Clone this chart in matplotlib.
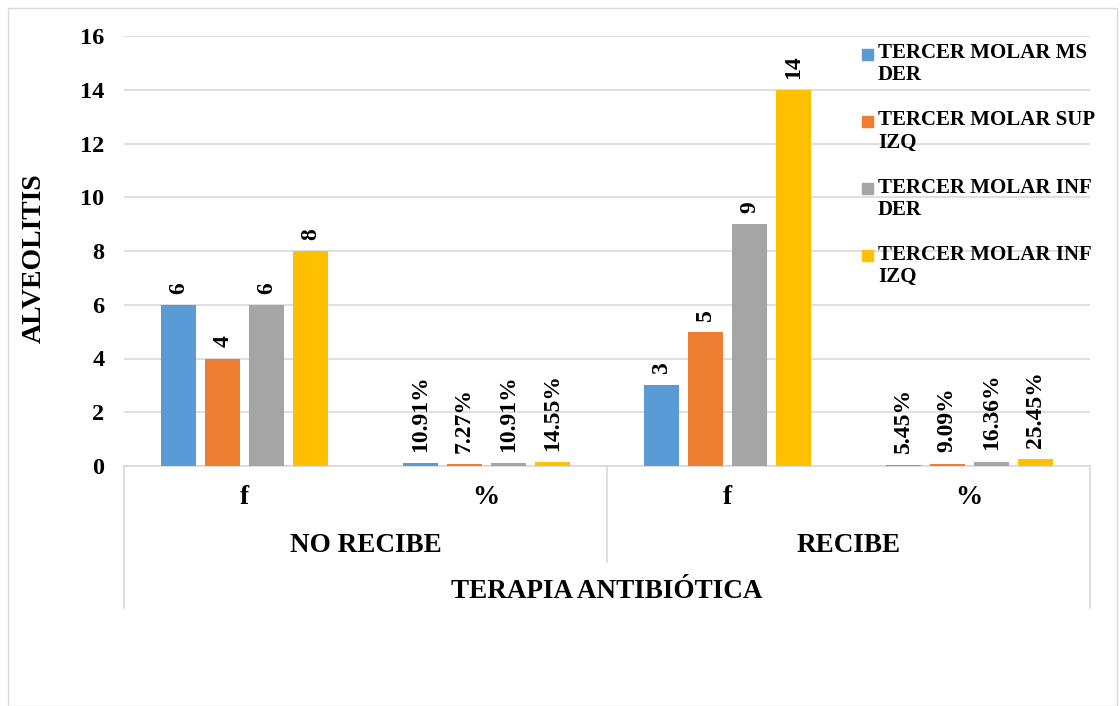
import matplotlib.pyplot as plt
from matplotlib.patches import Rectangle
from matplotlib.lines import Line2D

plt.rcParams['font.family'] = ['Liberation Serif', 'DejaVu Serif']
plt.rcParams['font.weight'] = 'bold'

# data
groups = ['NO RECIBE', 'RECIBE']
sub_labels = ['f', '%', 'f', '%']
series_names = ['TERCER MOLAR MS\nDER', 'TERCER MOLAR SUP\nIZQ',
                'TERCER MOLAR INF\nDER', 'TERCER MOLAR INF\nIZQ']
colors = ['#5B9BD5', '#ED7D31', '#A5A5A5', '#FFC000']
# per series: [f no recibe, % no recibe, f recibe, % recibe]
ms_der = [6, 0.1091, 3, 0.0545]
sup_izq = [4, 0.0727, 5, 0.0909]
inf_der = [6, 0.1091, 9, 0.1636]
inf_izq = [8, 0.1455, 14, 0.2545]
series = [ms_der, sup_izq, inf_der, inf_izq]
axis_title = 'TERAPIA ANTIBIÓTICA'
y_title = 'ALVEOLITIS'

W, H = 1120, 706
fig = plt.figure(figsize=(W / 100, H / 100), dpi=100)
fig.add_artist(Rectangle((8 / W, 0), 1109 / W, 698 / H, transform=fig.transFigure,
                         fill=False, edgecolor='#D9D9D9', linewidth=1))

ax = fig.add_axes([124 / W, (H - 466) / H, 966 / W, 430 / H])
x = range(len(sub_labels))
step = 0.182
width = 0.145
for i, (vals, c) in enumerate(zip(series, colors)):
    xs = [k + (i - 1.5) * step for k in x]
    bars = ax.bar(xs, vals, width=width, color=c, zorder=3)
    for k, (b, v) in enumerate(zip(bars, vals)):
        lab = f'{v:g}' if sub_labels[k] == 'f' else f'{v * 100:.2f}%'
        ax.annotate(lab, (b.get_x() + b.get_width() / 2, v), xytext=(0, 8),
                    textcoords='offset points', rotation=90, ha='center',
                    va='bottom', fontsize=17, fontweight='bold')

ax.set_xlim(-0.5, 3.5)
ax.set_ylim(0, 16)
ax.set_yticks(range(0, 17, 2))
ax.tick_params(axis='y', length=0, pad=14, labelsize=17.5)
ax.set_xticks([])
ax.yaxis.grid(True, color='#D9D9D9', linewidth=1.2, zorder=0)
for s in ['left', 'right', 'top']:
    ax.spines[s].set_visible(False)
ax.spines['bottom'].set_color('#D9D9D9')
ax.spines['bottom'].set_linewidth(1.2)
ax.set_ylabel(y_title, fontsize=20, fontweight='bold')
ax.yaxis.set_label_coords(-0.08, 0.484)

# multi-level category axis
tr = ax.get_xaxis_transform()
for k, lab in enumerate(sub_labels):
    ax.text(k, -0.074, lab, transform=tr, ha='center', va='center', fontsize=19.5)
for g, lab in enumerate(groups):
    ax.text(2 * g + 0.5, -0.184, lab, transform=tr, ha='center', va='center', fontsize=19.5)
ax.text(1.5, -0.293, axis_title, transform=tr, ha='center', va='center', fontsize=19.5)
for xv, yb in [(-0.5, -0.33), (1.5, -0.223), (3.5, -0.33)]:
    ax.add_line(Line2D([xv, xv], [0, yb], transform=tr, color='#D9D9D9',
                       linewidth=1.2, clip_on=False))

# legend
for i, (name, c) in enumerate(zip(series_names, colors)):
    yc = 54 + i * 67.3
    fig.add_artist(Rectangle((862 / W, (H - yc - 5.5) / H), 11 / W, 11 / H,
                             transform=fig.transFigure, color=c))
    fig.text(878 / W, (H - yc + 11) / H, name, ha='left', va='top', fontsize=15,
             linespacing=1.15)

fig.savefig('out.png', dpi=100)
